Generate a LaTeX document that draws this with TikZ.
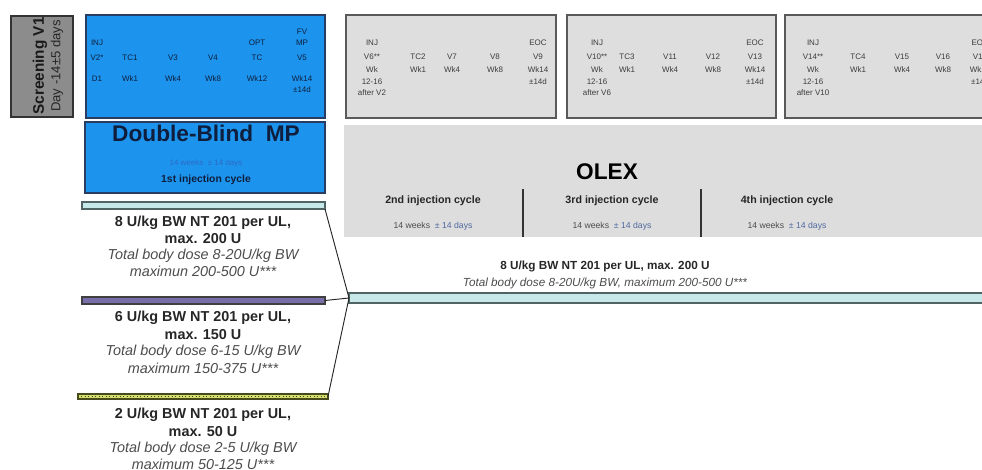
\documentclass[tikz,border=0pt]{standalone}
\usepackage{fontspec}
\setmainfont{Liberation Sans}
\usetikzlibrary{fit}
\definecolor{dbblue}{RGB}{28,148,238}
\definecolor{dbborder}{RGB}{40,60,100}
\definecolor{boxgray}{RGB}{222,222,222}
\definecolor{boxborder}{RGB}{90,90,90}
\definecolor{olexgray}{RGB}{221,221,221}
\definecolor{scrgray}{RGB}{140,140,140}
\definecolor{cyanbar}{RGB}{198,232,232}
\definecolor{cyanborder}{RGB}{80,100,100}
\definecolor{purplebar}{RGB}{120,110,170}
\definecolor{yellowbar}{RGB}{214,222,110}
\definecolor{yellowborder}{RGB}{70,75,30}
\definecolor{txtgray}{RGB}{60,60,60}
\definecolor{navy}{RGB}{15,30,60}
\definecolor{daysblue}{RGB}{80,105,160}
\definecolor{dbdays}{RGB}{45,105,195}
\tikzset{
  area/.style={rectangle, inner sep=0pt, outer sep=0pt},
  bluebox/.style={area, fill=dbblue, draw=dbborder, line width=1pt},
  graybox/.style={area, fill=boxgray, draw=boxborder, line width=1.2pt},
  sm/.style={inner sep=0pt, font=\fontsize{6}{7}\selectfont, text=txtgray},
  smb/.style={inner sep=0pt, font=\fontsize{6}{7}\selectfont, text=navy},
  dose/.style={inner sep=0pt, font=\bfseries\fontsize{10.8}{12}\selectfont, text=black!85},
  dosei/.style={inner sep=0pt, font=\itshape\fontsize{10.8}{12}\selectfont, text=black!70},
  cyc/.style={inner sep=0pt, font=\bfseries\fontsize{8}{9}\selectfont, text=black!85},
  wks/.style={inner sep=0pt, font=\fontsize{6.5}{7.5}\selectfont, text=black!70},
  link/.style={draw=black!85, line width=0.7pt},
}
\begin{document}
\begin{tikzpicture}[x=0.75pt,y=-0.75pt]
\useasboundingbox (0,0) rectangle (982,470);

% screening
\node[area, fill=scrgray, draw=black!80, line width=1pt, fit={(11,16) (73,117)}] (scr) {};
\node[rotate=90, inner sep=0pt, font=\bfseries\fontsize{11.5}{13}\selectfont, text=black!90] (scrA) at (40,66) {Screening V1};
\node[rotate=90, inner sep=0pt, font=\fontsize{9.8}{11}\selectfont, text=black!85] (scrB) at (57,66) {Day -14±5 days};

% blue boxes
\node[bluebox, fit={(86,15) (325,118)}] (blue1) {};
\node[bluebox, fit={(85,122) (325,193)}] (blue2) {};
\foreach \x/\y/\t [count=\i] in {97/43/INJ, 97/58/V2*, 97/79/D1,
  130/58/TC1, 130/79/Wk1, 173/58/V3, 173/79/Wk4, 213/58/V4, 213/79/Wk8,
  257/43/OPT, 257/58/TC, 257/79/Wk12,
  302/32/FV, 302/43/MP, 302/58/V5, 302/79/Wk14, 302/90/±14d}
  \node[smb] (bt\i) at (\x,\y) {\t};
\node[inner sep=0pt, font=\bfseries\fontsize{17}{18}\selectfont, text=navy] (dbt) at (206,133) {Double-Blind~~MP};
\node[inner sep=0pt, font=\fontsize{6}{7}\selectfont, text=dbdays] (dbw) at (206,163) {14 weeks~~± 14 days};
\node[inner sep=0pt, font=\bfseries\fontsize{7.8}{9}\selectfont, text=navy] (dbc) at (206,180) {1st injection cycle};

% OLEX area
\node[area, fill=olexgray, fit={(344,125) (990,237)}] (olex) {};
\node[inner sep=0pt, font=\bfseries\fontsize{17}{19}\selectfont, text=black] (olext) at (607,172) {OLEX};
\draw[draw=black!80, line width=0.8pt] (523,189) -- (523,237);
\draw[draw=black!80, line width=0.8pt] (701,189) -- (701,237);
\node[cyc] (c2) at (433,201) {2nd injection cycle};
\node[cyc] (c3) at (612,201) {3rd injection cycle};
\node[cyc] (c4) at (787,201) {4th injection cycle};
\node[wks] (w2) at (433,226) {14 weeks~~\textcolor{daysblue}{± 14 days}};
\node[wks] (w3) at (612,226) {14 weeks~~\textcolor{daysblue}{± 14 days}};
\node[wks] (w4) at (787,226) {14 weeks~~\textcolor{daysblue}{± 14 days}};

% gray visit boxes
\node[graybox, fit={(346,15) (556,118)}] (g2) {};
\node[graybox, fit={(567,15) (776,118)}] (g3) {};
\node[graybox, fit={(785,15) (1000,118)}] (g4) {};
\foreach \x/\y/\t [count=\i] in {372/43/INJ, 372/57/V6**, 372/70/Wk, 372/82/12-16, 372/93/after V2,
  418/57/TC2, 418/70/Wk1, 452/57/V7, 452/70/Wk4, 495/57/V8, 495/70/Wk8,
  538/43/EOC, 538/57/V9, 538/70/Wk14, 538/82/±14d}
  \node[sm] (ga\i) at (\x,\y) {\t};
\foreach \x/\y/\t [count=\i] in {597/43/INJ, 597/57/V10**, 597/70/Wk, 597/82/12-16, 597/93/after V6,
  627/57/TC3, 627/70/Wk1, 670/57/V11, 670/70/Wk4, 713/57/V12, 713/70/Wk8,
  755/43/EOC, 755/57/V13, 755/70/Wk14, 755/82/±14d}
  \node[sm] (gb\i) at (\x,\y) {\t};
\foreach \x/\y/\t [count=\i] in {813/43/INJ, 813/57/V14**, 813/70/Wk, 813/82/12-16, 813/93/after V10,
  858/57/TC4, 858/70/Wk1, 902/57/V15, 902/70/Wk4, 943/57/V16, 943/70/Wk8,
  980/43/EOS, 980/57/V17, 980/70/Wk14, 980/82/±14d}
  \node[sm] (gc\i) at (\x,\y) {\t};

% dose bars
\node[area, fill=cyanbar, draw=cyanborder, line width=0.9pt, fit={(82,202) (325,209)}] (bar1) {};
\node[area, fill=purplebar, draw=black!75, line width=0.9pt, fit={(82,297) (325,304)}] (bar2) {};
\node[area, fill=yellowbar, draw=yellowborder, line width=0.9pt, fit={(78,394) (328,399)}] (bar3) {};
\draw[yellowborder, dotted, line width=0.6pt] (bar3.west) -- (bar3.east);
\node[area, fill=cyanbar, draw=cyanborder, line width=1.2pt, fit={(349,293) (1000,303)}] (bar4) {};

\draw[link] (bar1.south east) -- (bar4.west);
\draw[link] (bar2.east) -- (bar4.west);
\draw[link] (bar3.east) -- (bar4.west);

% dose texts
\node[dose] (d1a) at (203,223) {8 U/kg BW NT 201 per UL,};
\node[dose] (d1b) at (203,239) {max. 200 U};
\node[dosei] (d1c) at (203,256) {Total body dose 8-20U/kg BW};
\node[dosei] (d1d) at (203,271) {maximun 200-500 U***};

\node[dose] (d2a) at (203,318) {6 U/kg BW NT 201 per UL,};
\node[dose] (d2b) at (203,335) {max. 150 U};
\node[dosei] (d2c) at (203,352) {Total body dose 6-15 U/kg BW};
\node[dosei] (d2d) at (203,368) {maximum 150-375 U***};

\node[dose] (d3a) at (203,415) {2 U/kg BW NT 201 per UL,};
\node[dose] (d3b) at (203,432) {max. 50 U};
\node[dosei] (d3c) at (203,449) {Total body dose 2-5 U/kg BW};
\node[dosei] (d3d) at (203,464) {maximum 50-125 U***};

\node[inner sep=0pt, font=\bfseries\fontsize{8.8}{10}\selectfont, text=black!85] (d4a) at (605,266) {8 U/kg BW NT 201 per UL, max. 200 U};
\node[inner sep=0pt, font=\itshape\fontsize{8.8}{10}\selectfont, text=black!70] (d4b) at (605,283) {Total body dose 8-20U/kg BW, maximum 200-500 U***};
\end{tikzpicture}
\end{document}
